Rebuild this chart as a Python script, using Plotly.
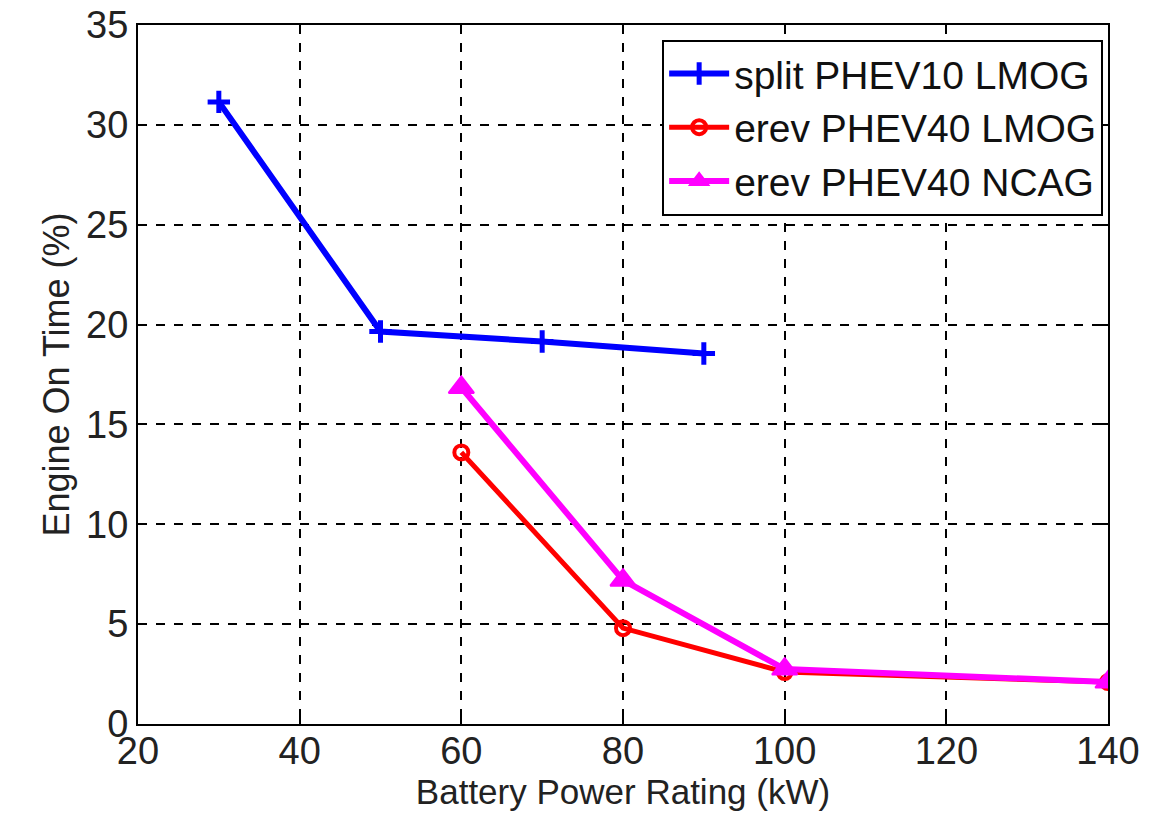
import plotly.graph_objects as go

# Data
split_x = [30, 50, 70, 90]
split_y = [31.15, 19.65, 19.15, 18.55]

erev_lmog_x = [60, 80, 100, 140]
erev_lmog_y = [13.6, 4.8, 2.6, 2.1]

erev_ncag_x = [60, 80, 100, 140]
erev_ncag_y = [16.85, 7.2, 2.75, 2.1]

names = ["split PHEV10 LMOG", "erev PHEV40 LMOG", "erev PHEV40 NCAG"]
x_ticks = [20, 40, 60, 80, 100, 120, 140]
y_ticks = [0, 5, 10, 15, 20, 25, 30, 35]

FONT = "Liberation Sans, Arial, sans-serif"

fig = go.Figure()
fig.add_trace(go.Scatter(
    x=split_x, y=split_y, name=names[0], mode="lines+markers",
    line=dict(color="#0000FF", width=6),
    marker=dict(symbol="cross-thin", size=16, line=dict(color="#0000FF", width=5)),
))
fig.add_trace(go.Scatter(
    x=erev_lmog_x, y=erev_lmog_y, name=names[1], mode="lines+markers",
    line=dict(color="#FF0000", width=5),
    marker=dict(symbol="circle-open", size=14, line=dict(color="#FF0000", width=4)),
))
fig.add_trace(go.Scatter(
    x=erev_ncag_x, y=erev_ncag_y, name=names[2], mode="lines+markers",
    line=dict(color="#FF00FF", width=6),
    marker=dict(symbol="triangle-up", size=22, color="#FF00FF",
                line=dict(color="#FF00FF", width=2)),
))

axis_common = dict(
    showline=True, linecolor="black", linewidth=2, mirror="ticks",
    ticks="inside", ticklen=9, tickwidth=1.5, tickcolor="black",
    showgrid=True, gridcolor="black", gridwidth=2, griddash="dash",
    zeroline=False, automargin=False, ticklabeloverflow="allow",
    tickfont=dict(family=FONT, size=38, color="#222222"),
)

fig.update_xaxes(
    range=[20, 140], tickvals=x_ticks, ticktext=[str(v) for v in x_ticks],
    ticklabelstandoff=-8,
    title=dict(text="Battery Power Rating (kW)",
               font=dict(family=FONT, size=35, color="#222222"), standoff=4),
    **axis_common,
)
fig.update_yaxes(
    range=[0, 35], tickvals=y_ticks, ticktext=[str(v) for v in y_ticks],
    title=dict(text="Engine On Time (%)",
               font=dict(family=FONT, size=36, color="#222222"), standoff=6),
    **axis_common,
)

fig.update_layout(
    width=1150, height=810,
    margin=dict(l=130, r=50, t=17, b=94),
    plot_bgcolor="white", paper_bgcolor="white",
    legend=dict(
        x=0.995, xanchor="right", y=0.979, yanchor="top",
        bgcolor="white", bordercolor="black", borderwidth=2,
        font=dict(family=FONT, size=39, color="#111111"),
        itemwidth=60, tracegroupgap=0,
    ),
    showlegend=True,
)

fig.write_html("out.html")
